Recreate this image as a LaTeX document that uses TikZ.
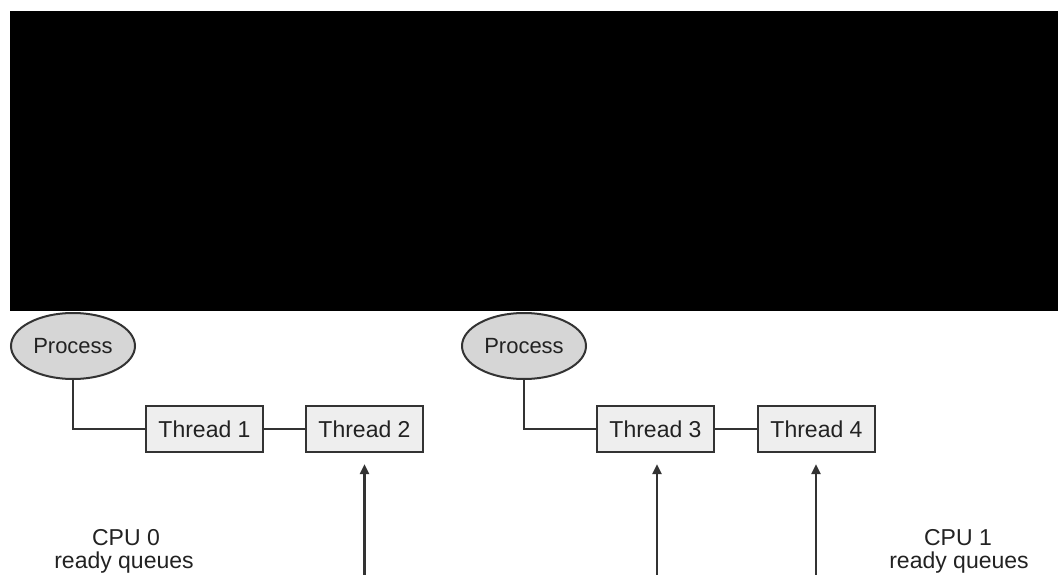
\documentclass[tikz,border=0pt]{standalone}
\usepackage{fontspec}
\setmainfont{Liberation Sans}
\usetikzlibrary{shapes.geometric,arrows.meta}
\definecolor{linegray}{HTML}{333333}
\definecolor{boxfill}{HTML}{EEEEEE}
\definecolor{procfill}{HTML}{D6D6D6}
\definecolor{textgray}{HTML}{222222}
\tikzset{
  procnode/.style={ellipse, draw=linegray, line width=2pt, fill=procfill, minimum width=124pt, minimum height=66pt, inner sep=0pt, text=textgray, font=\fontsize{22}{26}\selectfont},
  threadbox/.style={rectangle, draw=linegray, line width=2.2pt, fill=boxfill, minimum width=117pt, minimum height=46pt, inner sep=0pt, text=textgray, font=\fontsize{23}{26}\selectfont},
  link/.style={draw=linegray, line width=2.2pt},
  uparrow/.style={draw=linegray, line width=2.4pt, -{Triangle[length=10pt,width=9pt]}, shorten >=11pt},
  cpulabel/.style={align=center, text=textgray, font=\fontsize{23}{28}\selectfont, inner sep=0pt}
}
\begin{document}
\begin{tikzpicture}[x=1pt,y=-1pt]
\useasboundingbox (0,0) rectangle (1058,575);
\fill[white] (0,0) rectangle (1058,575);
\fill[black] (10,11) rectangle (1058,311);

\node[procnode] (p1) at (73,346) {Process};
\node[procnode] (p2) at (524,346) {Process};

\node[threadbox] (t1) at (204.5,429) {Thread 1};
\node[threadbox] (t2) at (364.5,429) {Thread 2};
\node[threadbox] (t3) at (655.5,429) {Thread 3};
\node[threadbox] (t4) at (816.5,429) {Thread 4};

\draw[link] (p1.south) |- (t1.west);
\draw[link] (t1.east) -- (t2.west);
\draw[link] (p2.south) |- (t3.west);
\draw[link] (t3.east) -- (t4.west);

\coordinate (a2) at (364.5,576);
\coordinate (a3) at (657,576);
\coordinate (a4) at (816,576);
\draw[uparrow] (a2) -- (a2 |- t2.south);
\draw[uparrow] (a3) -- (a3 |- t3.south);
\draw[uparrow] (a4) -- (a4 |- t4.south);

\node[cpulabel, anchor=base] (c0a) at (126,545) {CPU 0};
\node[cpulabel, anchor=base] (c0b) at (124,568) {ready queues};
\node[cpulabel, anchor=base] (c1a) at (958,545) {CPU 1};
\node[cpulabel, anchor=base] (c1b) at (959,568) {ready queues};
\end{tikzpicture}
\end{document}
